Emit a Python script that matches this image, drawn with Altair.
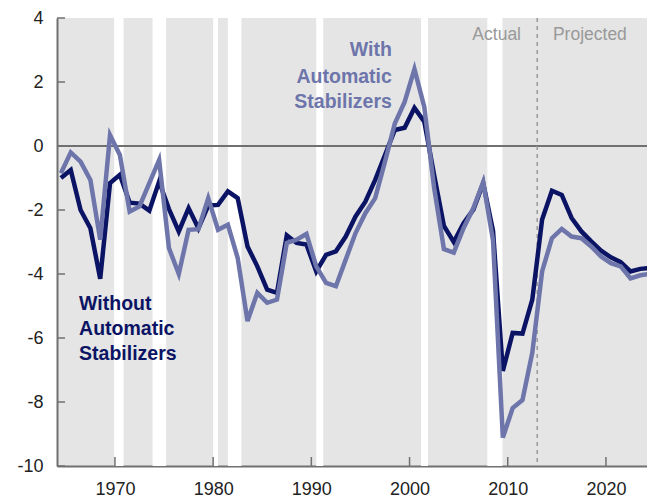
import altair as alt
import pandas as pd

years = list(range(1964, 2025))
without_stab = [-1.0, -0.75, -2.0, -2.57, -4.15, -1.16, -0.9, -1.77, -1.8, -2.02,
                -1.11, -1.97, -2.67, -1.94, -2.57, -1.86, -1.84, -1.42, -1.63, -3.14,
                -3.76, -4.49, -4.59, -2.79, -3.03, -3.08, -3.92, -3.4, -3.29, -2.83,
                -2.2, -1.74, -1.06, -0.28, 0.5, 0.57, 1.19, 0.76, -0.9, -2.5,
                -3.0, -2.41, -1.99, -1.16, -2.65, -7.03, -5.84, -5.86, -4.8, -2.3,
                -1.4, -1.53, -2.25, -2.67, -2.98, -3.27, -3.48, -3.63, -3.92, -3.84,
                -3.81]
with_stab = [-0.85, -0.2, -0.49, -1.06, -2.93, 0.34, -0.28, -2.05, -1.89, -1.16,
             -0.44, -3.19, -4.0, -2.62, -2.6, -1.63, -2.62, -2.46, -3.5, -5.47,
             -4.59, -4.9, -4.8, -3.03, -2.93, -2.75, -3.76, -4.28, -4.38, -3.55,
             -2.72, -2.1, -1.63, -0.49, 0.7, 1.38, 2.4, 1.22, -1.3, -3.22,
             -3.33, -2.57, -1.94, -1.13, -2.95, -9.11, -8.19, -7.94, -6.46, -3.92,
             -2.88, -2.59, -2.83, -2.88, -3.14, -3.45, -3.66, -3.76, -4.14, -4.04,
             -3.99]

rec_start = [1969.92, 1973.83, 1980.0, 1981.5, 1990.5, 2001.17, 2007.92]
rec_end = [1970.88, 1975.21, 1980.5, 1982.88, 1991.21, 2001.88, 2009.46]

x_ticks = [1970, 1980, 1990, 2000, 2010, 2020]
y_ticks = [4, 2, 0, -2, -4, -6, -8, -10]
projection_start = 2013

with_label = ["With", "Automatic", "Stabilizers"]
with_label_x = 1998.2
with_label_y = [2.81, 1.97, 1.18]
without_label = ["Without", "Automatic", "Stabilizers"]
without_label_x = 1966.35
without_label_y = [-5.13, -5.91, -6.69]

period_label = ["Actual", "Projected"]
period_x = [2011.35, 2014.6]
period_y = [3.3, 3.3]

DARK = "#0b1464"
LIGHT = "#6d75ab"
GRAY_BG = "#e5e5e5"
AXIS = "#707070"
W, H = 590, 448

xs = alt.Scale(domain=[1964.1, 2024.18], nice=False, zero=False)
ys = alt.Scale(domain=[-10, 4], nice=False, zero=False)
AX = alt.Axis(values=x_ticks, title=None, grid=False, ticks=False, labelPadding=14,
              domainColor=AXIS, domainWidth=2, labelExpr="toString(datum.value)")
AY = alt.Axis(values=y_ticks, title=None, grid=False, ticks=False, labelPadding=14,
              domainColor=AXIS, domainWidth=2, labelExpr="toString(datum.value)")


def X(f):
    return alt.X(f, scale=xs, axis=AX)


def Y(f):
    return alt.Y(f, scale=ys, axis=AY)


df = pd.DataFrame({"year": years, "without": without_stab, "with": with_stab})
rec = pd.DataFrame({"s": rec_start, "e": rec_end})

rects = alt.Chart(rec).mark_rect(color="white").encode(x=X("s:Q"), x2="e:Q")

zero = alt.Chart(pd.DataFrame({"v": [0]})).mark_rule(color=AXIS, strokeWidth=2).encode(y=Y("v:Q"))

proj = alt.Chart(pd.DataFrame({"x": [projection_start]})).mark_rule(
    color="#9a9a9a", strokeWidth=1.5, strokeDash=[4, 4]).encode(x=X("x:Q"))

base = alt.Chart(df).transform_calculate(xp="datum.year + 0.5")
line_dark = base.mark_line(color=DARK, strokeWidth=4.5).encode(x=X("xp:Q"), y=Y("without:Q"))
line_light = base.mark_line(color=LIGHT, strokeWidth=4.5).encode(x=X("xp:Q"), y=Y("with:Q"))

xt = alt.Chart(pd.DataFrame({"t": x_ticks})).mark_rule(color=AXIS, strokeWidth=1.5).encode(
    x=X("t:Q"), y=alt.value(H), y2=alt.value(H - 9))
yt = alt.Chart(pd.DataFrame({"t": y_ticks})).mark_rule(color=AXIS, strokeWidth=1.5).encode(
    y=Y("t:Q"), x=alt.value(0), x2=alt.value(8))

FONT = "Liberation Sans"
lab_with = alt.Chart(pd.DataFrame({"t": with_label, "x": [with_label_x] * 3, "y": with_label_y})).mark_text(
    align="right", baseline="alphabetic", font=FONT, fontWeight="bold", fontSize=19.5, color=LIGHT).encode(
    x=X("x:Q"), y=Y("y:Q"), text="t:N")
lab_without = alt.Chart(pd.DataFrame({"t": without_label, "x": [without_label_x] * 3, "y": without_label_y})).mark_text(
    align="left", baseline="alphabetic", font=FONT, fontWeight="bold", fontSize=19.5, color=DARK).encode(
    x=X("x:Q"), y=Y("y:Q"), text="t:N")

period = alt.Chart(pd.DataFrame({"t": period_label, "x": period_x, "y": period_y}))
act = period.transform_filter("datum.t == 'Actual'").mark_text(
    align="right", baseline="alphabetic", font=FONT, fontSize=17.5, color="#999999").encode(
    x=X("x:Q"), y=Y("y:Q"), text="t:N")
pro = period.transform_filter("datum.t == 'Projected'").mark_text(
    align="left", baseline="alphabetic", font=FONT, fontSize=17.5, color="#999999").encode(
    x=X("x:Q"), y=Y("y:Q"), text="t:N")

chart = alt.layer(rects, zero, proj, line_dark, line_light, xt, yt, lab_with, lab_without, act, pro).properties(
    width=W, height=H,
    padding={"left": 49, "top": 10, "right": 0, "bottom": 32},
    autosize=alt.AutoSizeParams(type="none"),
).configure_view(fill=GRAY_BG, stroke=None).configure_axis(
    labelFont="Liberation Sans", labelFontSize=18, labelColor="#222222")

chart.save("out.html", embed_options={"renderer": "svg", "actions": False})
